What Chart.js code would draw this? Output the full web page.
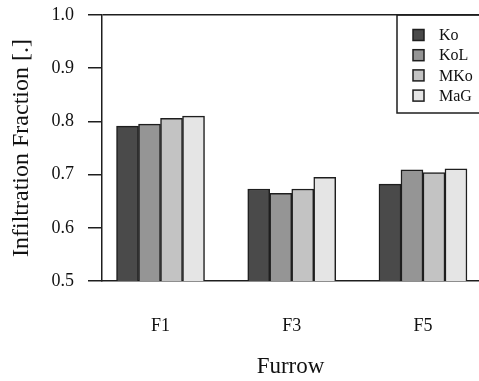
<!DOCTYPE html>
<html>
<head>
<meta charset="utf-8">
<script src="https://cdn.jsdelivr.net/npm/chart.js@4/dist/chart.umd.min.js"></script>
<style>
  html, body { margin: 0; padding: 0; background: #fff; }
  #wrap { width: 479px; height: 381px; }
</style>
</head>
<body>
<div id="wrap"><canvas id="infChart" width="479" height="381"></canvas></div>
<script>
// données
const furrows = ['F1', 'F3', 'F5'];
const seriesNames = ['Ko', 'KoL', 'MKo', 'MaG'];
const ko  = [0.791, 0.673, 0.682];
const kol = [0.795, 0.665, 0.709];
const mko = [0.806, 0.673, 0.704];
const mag = [0.810, 0.695, 0.711];
const yTicks = [0.5, 0.6, 0.7, 0.8, 0.9, 1.0];

const fills = ['#4a4a4a', '#959595', '#c3c3c3', '#e5e5e5'];
const ink = '#1e1e1e';
const serif = "'Liberation Serif', 'DejaVu Serif', serif";

// positions des groupes sur l'axe x (1, 2, 3)
function toPoints(values) {
    return values.map((v, i) => ({ x: i + 1, y: v }));
}

const datasets = [ko, kol, mko, mag].map((vals, i) => ({
    label: seriesNames[i],
    data: toPoints(vals),
    backgroundColor: fills[i],
    borderColor: ink,
    borderWidth: 1.5,
    barThickness: 22
}));

// légende encadrée, dessinée à la main
const boxLegend = {
    id: 'boxLegend',
    afterDraw(chart) {
        const ctx = chart.ctx;
        const area = chart.chartArea;
        const left = 397, top = area.top, bottom = 113;
        ctx.save();
        ctx.strokeStyle = ink;
        ctx.lineWidth = 1.5;
        ctx.strokeRect(left, top, 100, bottom - top);
        ctx.font = '16px ' + serif;
        ctx.textBaseline = 'middle';
        ctx.textAlign = 'left';
        chart.data.datasets.forEach((ds, i) => {
            const cy = 35 + i * 20.2;
            ctx.fillStyle = ds.backgroundColor;
            ctx.fillRect(413, cy - 5.5, 11, 11);
            ctx.strokeRect(413, cy - 5.5, 11, 11);
            ctx.fillStyle = '#111';
            ctx.fillText(ds.label, 439, cy + 1);
        });
        ctx.restore();
    }
};

new Chart(document.getElementById('infChart'), {
    type: 'bar',
    data: { datasets: datasets },
    plugins: [boxLegend],
    options: {
        responsive: false,
        animation: false,
        layout: { padding: { top: 15, right: 0, bottom: 0, left: 0 } },
        plugins: {
            legend: { display: false },
            tooltip: { enabled: false }
        },
        scales: {
            x: {
                type: 'linear',
                offset: false,
                min: 0.554,
                max: 3.427,
                afterBuildTicks: (scale) => {
                    scale.ticks = furrows.map((f, i) => ({ value: i + 1 }));
                },
                afterFit: (scale) => {
                    scale.height = 100;
                    scale.paddingLeft = 0;
                    scale.paddingRight = 0;
                },
                grid: { display: false, drawTicks: false, offset: false },
                border: { display: true, color: ink, width: 1.5 },
                ticks: {
                    padding: 34,
                    color: '#111',
                    font: { family: serif, size: 18 },
                    callback: (v) => furrows[Math.round(v) - 1]
                },
                title: {
                    display: true,
                    text: 'Furrow',
                    color: '#111',
                    font: { family: serif, size: 23 },
                    padding: { top: 0, bottom: 0 }
                }
            },
            y: {
                min: 0.5,
                max: 1.0,
                afterBuildTicks: (scale) => {
                    scale.ticks = yTicks.map(v => ({ value: v }));
                },
                afterFit: (scale) => {
                    scale.width = 102;
                    scale.paddingTop = 0;
                    scale.paddingBottom = 0;
                },
                grid: {
                    color: (c) => (c.tick && Math.abs(c.tick.value - 1) < 1e-6) ? ink : 'transparent',
                    tickColor: ink,
                    tickLength: 14,
                    lineWidth: 1.5
                },
                border: { display: true, color: ink, width: 1.5 },
                ticks: {
                    padding: 14,
                    color: '#111',
                    font: { family: serif, size: 18 },
                    callback: (v) => Number(v).toFixed(1)
                },
                title: {
                    display: true,
                    text: 'Infiltration Fraction [.]',
                    color: '#111',
                    font: { family: serif, size: 24 },
                    padding: { top: 7, bottom: 0 }
                }
            }
        }
    }
});
</script>
</body>
</html>
